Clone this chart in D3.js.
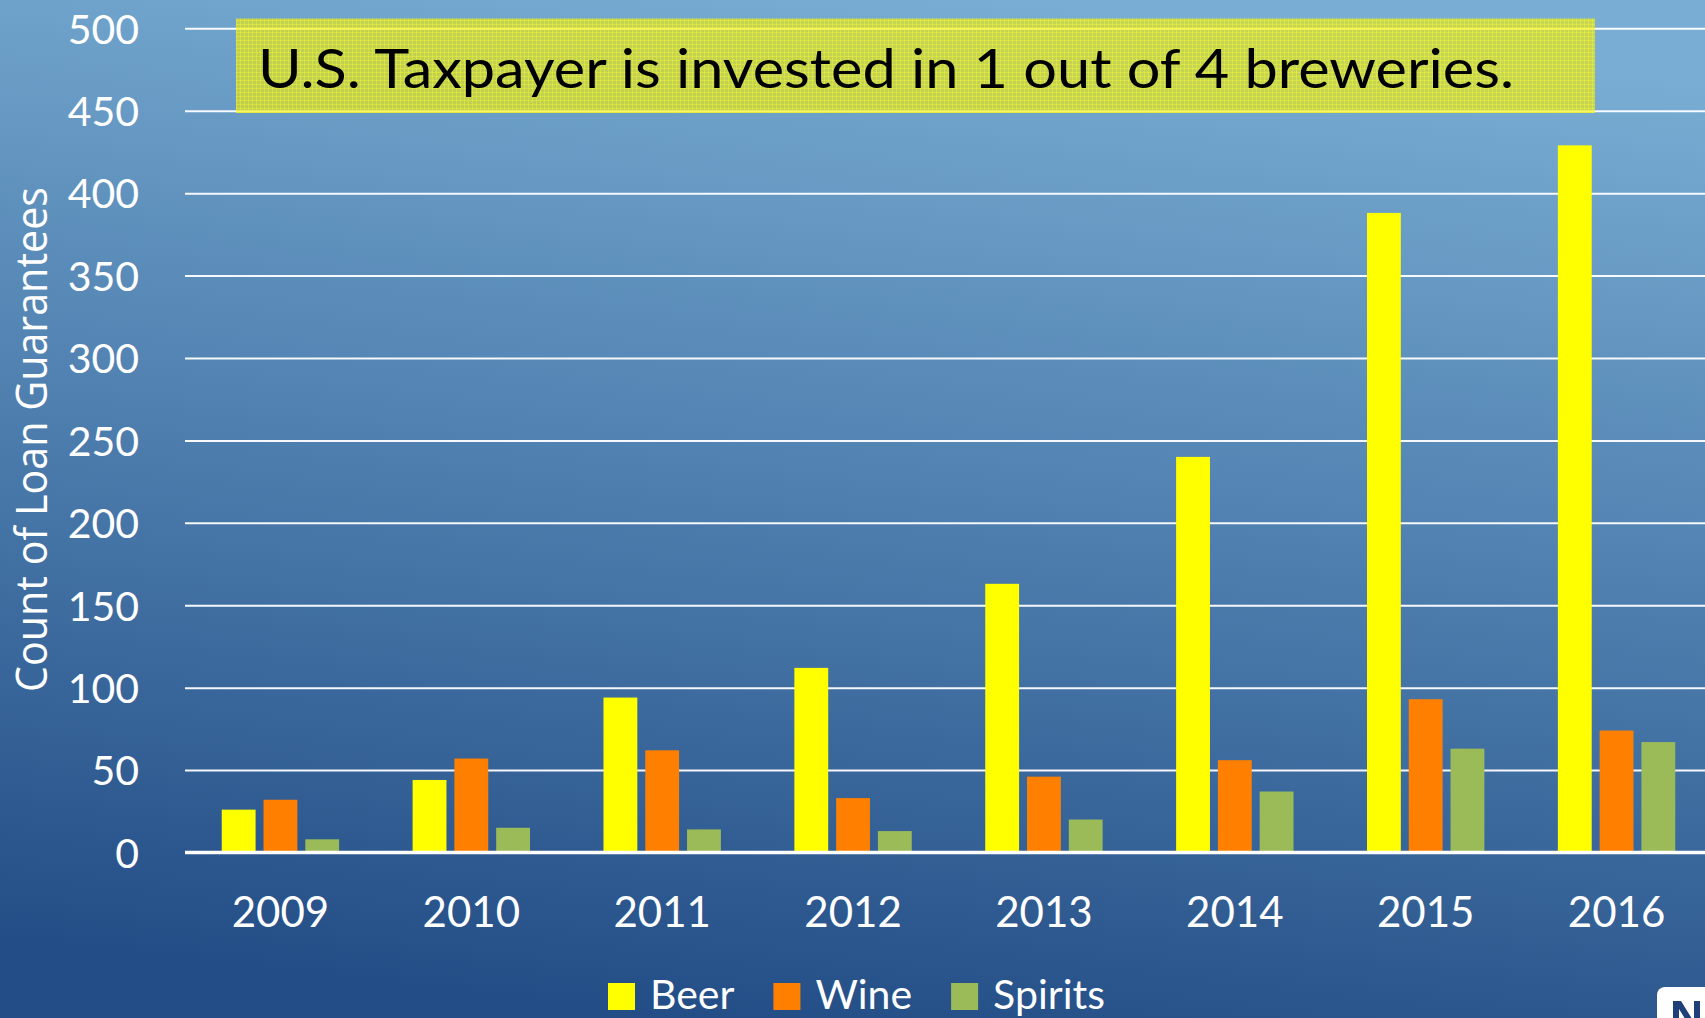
<!DOCTYPE html>
<html>
<head>
<meta charset="utf-8">
<script src="https://cdn.jsdelivr.net/npm/d3@7"></script>
<style>
  html, body { margin: 0; padding: 0; overflow: hidden; background: #2a5590; }
  svg { display: block; }
</style>
</head>
<body>
<script>
// Loan guarantees by beverage type and year
const years = ["2009", "2010", "2011", "2012", "2013", "2014", "2015", "2016"];
const seriesNames = ["Beer", "Wine", "Spirits"];
const beer    = [26, 44, 94, 112, 163, 240, 388, 429];
const wine    = [32, 57, 62, 33, 46, 56, 93, 74];
const spirits = [8, 15, 14, 13, 20, 37, 63, 67];
const yTicks  = [0, 50, 100, 150, 200, 250, 300, 350, 400, 450, 500];
const seriesColors = ["#FFFF00", "#FF8000", "#9BBB59"];
const headline = "U.S. Taxpayer is invested in 1 out of 4 breweries.";
const yTitle = "Count of Loan Guarantees";

const W = 1705, H = 1018;
const plot = { left: 185, right: 1705, bandRight: 1712, top: 28.3, bottom: 852.5 };
const textFont = "Lato, 'Open Sans', sans-serif";

const values = { Beer: beer, Wine: wine, Spirits: spirits };

const svg = d3.select("body").append("svg")
  .attr("width", W).attr("height", H);

const defs = svg.append("defs");
const bg = defs.append("linearGradient").attr("id", "bg")
  .attr("x1", 0.6).attr("y1", 0).attr("x2", 0.4).attr("y2", 1);
bg.append("stop").attr("offset", 0).attr("stop-color", "#79ADD3");
bg.append("stop").attr("offset", 0.45).attr("stop-color", "#5283B2");
bg.append("stop").attr("offset", 1).attr("stop-color", "#234D86");

// fine crosshatch texture for the headline banner
const pat = defs.append("pattern").attr("id", "hatch")
  .attr("patternUnits", "userSpaceOnUse").attr("width", 4).attr("height", 4);
pat.append("rect").attr("width", 4).attr("height", 4).attr("fill", "rgba(250,240,0,0.60)");
pat.append("rect").attr("width", 4).attr("height", 1).attr("fill", "rgba(255,255,40,0.35)");
pat.append("rect").attr("width", 1).attr("height", 4).attr("fill", "rgba(255,255,40,0.35)");

svg.append("rect").attr("width", W).attr("height", H).attr("fill", "url(#bg)");

const y = d3.scaleLinear().domain([0, 500]).range([plot.bottom, plot.top]);
const x0 = d3.scaleBand().domain(years).range([plot.left, plot.bandRight])
  .paddingInner(0.385).paddingOuter(0.1925);
const x1 = d3.scaleBand().domain(seriesNames).range([0, x0.bandwidth()])
  .paddingInner(0.19).paddingOuter(0);
const color = d3.scaleOrdinal().domain(seriesNames).range(seriesColors);

// gridlines + y tick labels
const yAxis = svg.append("g")
  .attr("transform", `translate(${plot.left},0)`)
  .call(d3.axisLeft(y).tickValues(yTicks).tickSize(-(plot.right - plot.left)).tickPadding(46).tickFormat(d3.format("d")));
yAxis.select(".domain").remove();
yAxis.selectAll(".tick line")
  .attr("stroke", "#ffffff").attr("stroke-width", 2)
  .attr("opacity", d => d === 0 ? 0 : 0.95);
yAxis.selectAll(".tick text")
  .attr("fill", "#ffffff").attr("font-family", textFont)
  .attr("font-size", 41).attr("dy", "0.36em");

// y axis title
svg.append("text")
  .attr("transform", `translate(47,${(187 + 692) / 2}) rotate(-90)`)
  .attr("text-anchor", "middle")
  .attr("fill", "#ffffff")
  .attr("font-family", "'Open Sans', 'DejaVu Sans', sans-serif")
  .attr("font-size", 44)
  .attr("textLength", 505).attr("lengthAdjust", "spacingAndGlyphs")
  .text(yTitle);

// bars
const groups = svg.append("g").selectAll("g")
  .data(years.map((yr, i) => ({ yr, i })))
  .join("g")
  .attr("transform", d => `translate(${x0(d.yr)},0)`);
groups.selectAll("rect")
  .data(d => seriesNames.map(s => ({ s, v: values[s][d.i] })))
  .join("rect")
  .attr("x", d => x1(d.s))
  .attr("width", x1.bandwidth())
  .attr("y", d => y(d.v))
  .attr("height", d => y(0) - y(d.v))
  .attr("fill", d => color(d.s));

// baseline
svg.append("line")
  .attr("x1", plot.left).attr("x2", plot.right)
  .attr("y1", y(0)).attr("y2", y(0))
  .attr("stroke", "#ffffff").attr("stroke-width", 3.5);

// x labels
const xAxis = svg.append("g")
  .attr("transform", `translate(0,${plot.bottom})`)
  .call(d3.axisBottom(x0).tickSize(0).tickPadding(45));
xAxis.select(".domain").remove();
xAxis.selectAll(".tick text")
  .attr("fill", "#ffffff").attr("font-family", textFont).attr("font-size", 42);

// headline banner
svg.append("rect")
  .attr("x", 236).attr("y", 18.5).attr("width", 1595 - 236).attr("height", 113 - 18.5)
  .attr("fill", "url(#hatch)");
svg.append("text")
  .attr("x", 258).attr("y", 88)
  .attr("fill", "#000000")
  .attr("font-family", textFont)
  .attr("font-size", 55)
  .attr("textLength", 1256).attr("lengthAdjust", "spacingAndGlyphs")
  .text(headline);

// legend
const legend = svg.append("g");
let lx = 608;
seriesNames.forEach((s, i) => {
  legend.append("rect").attr("x", lx).attr("y", 983).attr("width", 27).attr("height", 27)
    .attr("fill", color(s));
  const t = legend.append("text").attr("x", lx + 42).attr("y", 1009)
    .attr("fill", "#ffffff").attr("font-family", textFont).attr("font-size", 41)
    .text(s);
  lx += 42 + t.node().getComputedTextLength() + 39;
});

// corner badge (partly outside the frame)
const badge = svg.append("g");
badge.append("rect").attr("x", 1657).attr("y", 987).attr("width", 70).attr("height", 60)
  .attr("rx", 8).attr("fill", "#ffffff");
badge.append("path")
  .attr("d", "M1673,1001 L1681,1001 L1694,1022 L1694,1001 L1700,1001 L1700,1030 L1692,1030 L1679,1009 L1679,1030 L1673,1030 Z")
  .attr("fill", "#1E3F78");
</script>
</body>
</html>
